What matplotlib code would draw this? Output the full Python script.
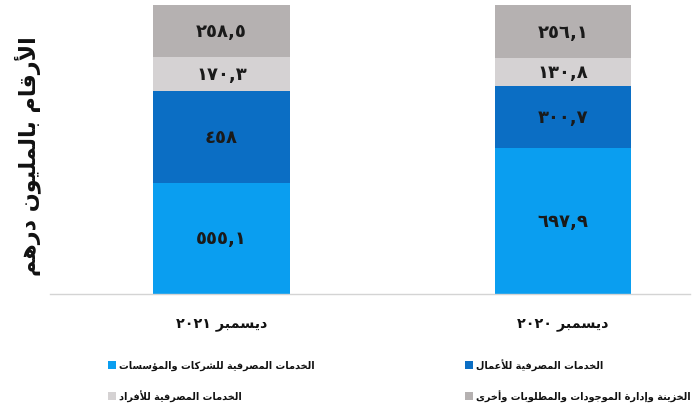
import matplotlib
matplotlib.use("Agg")
import matplotlib.pyplot as plt
from matplotlib.patches import Rectangle

# ---------------- data ----------------
categories = ["ديسمبر ٢٠٢١", "ديسمبر ٢٠٢٠"]
series_names = [
    "الخدمات المصرفية للشركات والمؤسسات",
    "الخدمات المصرفية للأعمال",
    "الخدمات المصرفية للأفراد",
    "الخزينة وإدارة الموجودات والمطلوبات وأخرى",
]
corporate = [555.1, 697.9]
business = [458.0, 300.7]
retail = [170.3, 130.8]
treasury = [258.5, 256.1]
value_labels = [
    ["٥٥٥,١", "٦٩٧,٩"],
    ["٤٥٨", "٣٠٠,٧"],
    ["١٧٠,٣", "١٣٠,٨"],
    ["٢٥٨,٥", "٢٥٦,١"],
]
y_label = "الأرقام بالمليون درهم"
colors = ["#0a9ef0", "#0b6ec4", "#d5d2d3", "#b5b1b1"]

# ------------- minimal Arabic shaping (presentation forms) -------------
FORMS = {
    # isolated, final, initial, medial
    "ء": ("\uFE80", None, None, None),
    "آ": ("\uFE81", "\uFE82", None, None),
    "أ": ("\uFE83", "\uFE84", None, None),
    "ؤ": ("\uFE85", "\uFE86", None, None),
    "إ": ("\uFE87", "\uFE88", None, None),
    "ئ": ("\uFE89", "\uFE8A", "\uFE8B", "\uFE8C"),
    "ا": ("\uFE8D", "\uFE8E", None, None),
    "ب": ("\uFE8F", "\uFE90", "\uFE91", "\uFE92"),
    "ة": ("\uFE93", "\uFE94", None, None),
    "ت": ("\uFE95", "\uFE96", "\uFE97", "\uFE98"),
    "ث": ("\uFE99", "\uFE9A", "\uFE9B", "\uFE9C"),
    "ج": ("\uFE9D", "\uFE9E", "\uFE9F", "\uFEA0"),
    "ح": ("\uFEA1", "\uFEA2", "\uFEA3", "\uFEA4"),
    "خ": ("\uFEA5", "\uFEA6", "\uFEA7", "\uFEA8"),
    "د": ("\uFEA9", "\uFEAA", None, None),
    "ذ": ("\uFEAB", "\uFEAC", None, None),
    "ر": ("\uFEAD", "\uFEAE", None, None),
    "ز": ("\uFEAF", "\uFEB0", None, None),
    "س": ("\uFEB1", "\uFEB2", "\uFEB3", "\uFEB4"),
    "ش": ("\uFEB5", "\uFEB6", "\uFEB7", "\uFEB8"),
    "ص": ("\uFEB9", "\uFEBA", "\uFEBB", "\uFEBC"),
    "ض": ("\uFEBD", "\uFEBE", "\uFEBF", "\uFEC0"),
    "ط": ("\uFEC1", "\uFEC2", "\uFEC3", "\uFEC4"),
    "ظ": ("\uFEC5", "\uFEC6", "\uFEC7", "\uFEC8"),
    "ع": ("\uFEC9", "\uFECA", "\uFECB", "\uFECC"),
    "غ": ("\uFECD", "\uFECE", "\uFECF", "\uFED0"),
    "ف": ("\uFED1", "\uFED2", "\uFED3", "\uFED4"),
    "ق": ("\uFED5", "\uFED6", "\uFED7", "\uFED8"),
    "ك": ("\uFED9", "\uFEDA", "\uFEDB", "\uFEDC"),
    "ل": ("\uFEDD", "\uFEDE", "\uFEDF", "\uFEE0"),
    "م": ("\uFEE1", "\uFEE2", "\uFEE3", "\uFEE4"),
    "ن": ("\uFEE5", "\uFEE6", "\uFEE7", "\uFEE8"),
    "ه": ("\uFEE9", "\uFEEA", "\uFEEB", "\uFEEC"),
    "و": ("\uFEED", "\uFEEE", None, None),
    "ى": ("\uFEEF", "\uFEF0", None, None),
    "ي": ("\uFEF1", "\uFEF2", "\uFEF3", "\uFEF4"),
}
LAM_ALEF = {"آ": ("\uFEF5", "\uFEF6"), "أ": ("\uFEF7", "\uFEF8"),
            "إ": ("\uFEF9", "\uFEFA"), "ا": ("\uFEFB", "\uFEFC")}


def joins_left(ch):
    f = FORMS.get(ch)
    return f is not None and f[2] is not None


def shape_word(word):
    chars = list(word)
    out = []
    i = 0
    while i < len(chars):
        c = chars[i]
        prev = chars[i - 1] if i > 0 else None
        prev_j = prev is not None and joins_left(prev)
        if c == "ل" and i + 1 < len(chars) and chars[i + 1] in LAM_ALEF:
            iso, fin = LAM_ALEF[chars[i + 1]]
            out.append(fin if prev_j else iso)
            i += 2
            continue
        if c not in FORMS:
            out.append(c)
            i += 1
            continue
        nxt = chars[i + 1] if i + 1 < len(chars) else None
        next_j = joins_left(c) and nxt in FORMS
        iso, fin, ini, med = FORMS[c]
        if prev_j and next_j:
            out.append(med)
        elif prev_j:
            out.append(fin)
        elif next_j:
            out.append(ini)
        else:
            out.append(iso)
        i += 1
    return "".join(out)


def ar(text):
    """Visual (LTR-drawn) form of a pure Arabic sentence."""
    words = text.split(" ")
    return " ".join(shape_word(w)[::-1] for w in reversed(words))


def ar_cat(text):
    """Category label in RTL order: year on the left, month word on the right."""
    word, year = text.split(" ")
    return year + " " + shape_word(word)[::-1]


plt.rcParams["font.family"] = ["DejaVu Sans"]

W, H = 697, 410
fig = plt.figure(figsize=(W / 100, H / 100), dpi=100)
ax_left, ax_right, ax_top, ax_bottom = 50, 690, 6, 295
ax = fig.add_axes([ax_left / W, (H - ax_bottom) / H,
                   (ax_right - ax_left) / W, (ax_bottom - ax_top) / H])

series = [corporate, business, retail, treasury]
totals = [sum(s[j] for s in series) for j in range(len(categories))]
x = list(range(len(categories)))
bottoms = [0.0] * len(categories)
for k, s in enumerate(series):
    frac = [s[j] / totals[j] for j in x]
    ax.bar(x, frac, width=0.40, bottom=bottoms, color=colors[k],
           edgecolor="none", linewidth=0)
    for j in x:
        ax.text(j, bottoms[j] + frac[j] / 2, value_labels[k][j],
                ha="center", va="center", fontsize=13, fontweight="bold",
                color="#1a1a1a")
    bottoms = [bottoms[j] + frac[j] for j in x]

ax.set_ylim(0, 1)
ax.set_xlim(-0.502, 1.372)
for side in ["top", "right", "left"]:
    ax.spines[side].set_visible(False)
ax.spines["bottom"].set_color("#d4d4d4")
ax.spines["bottom"].set_linewidth(1.0)
ax.set_yticks([])
ax.set_xticks(x)
ax.set_xticklabels([ar_cat(c) for c in categories], fontsize=10.3,
                   fontweight="bold", color="#111111")
ax.tick_params(axis="x", length=0, pad=16)

fig.text(28 / W, (H - 156) / H, ar(y_label), rotation=90, ha="center",
         va="center", fontsize=16, fontweight="bold", color="#111111")

# legend (two columns, marker left of text)
leg_pos = [(112, 366), (469, 366), (112, 397), (469, 397)]
leg_order = [0, 1, 2, 3]
for (px, py), k in zip(leg_pos, leg_order):
    sz = 7.5
    fig.patches.append(Rectangle(((px - sz / 2) / W, (H - py - sz / 2) / H),
                                 sz / W, sz / H, transform=fig.transFigure,
                                 facecolor=colors[k], edgecolor="none"))
    fig.text((px + 7) / W, (H - py) / H, ar(series_names[k]), ha="left",
             va="center", fontsize=7.0, fontweight="bold", color="#111111")

fig.savefig("out.png", dpi=100)
